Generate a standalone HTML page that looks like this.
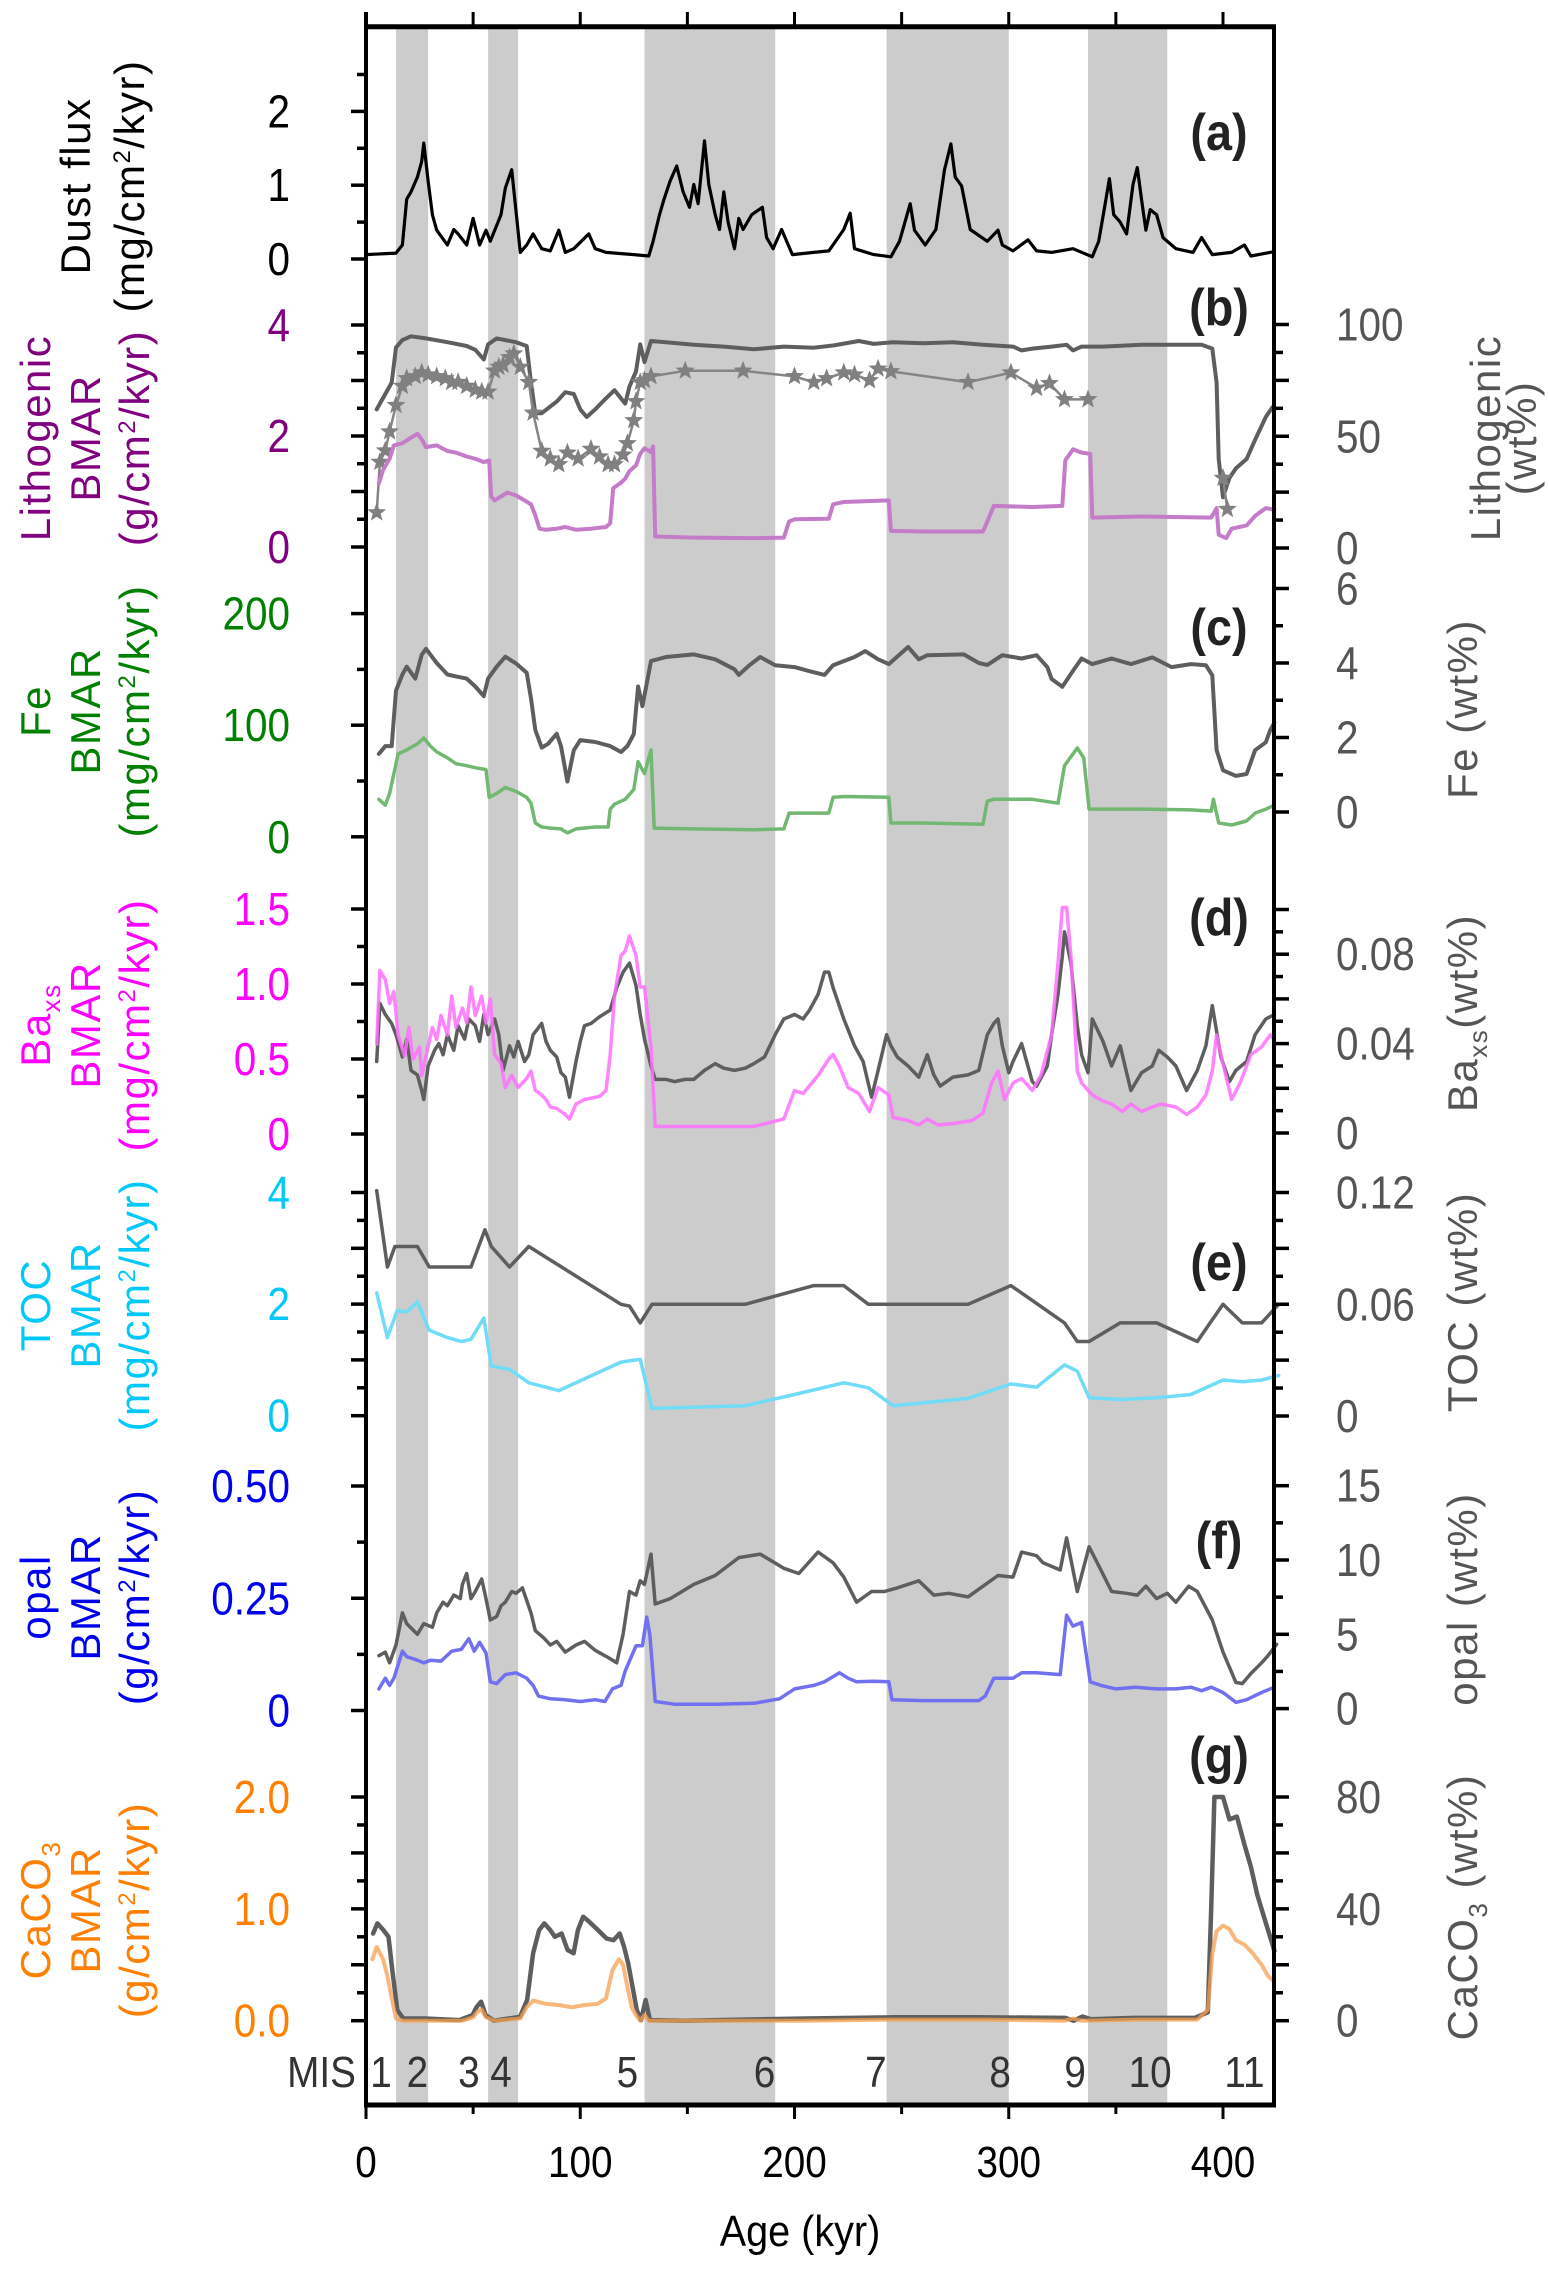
<!DOCTYPE html>
<html><head><meta charset="utf-8"><style>
html,body{margin:0;padding:0;background:#fff;}
svg{display:block;font-family:"Liberation Sans",Arial,sans-serif;}
</style></head><body>
<svg id="chart" width="1549" height="2271" viewBox="0 0 1549 2271" xmlns="http://www.w3.org/2000/svg">
<g id="bands"></g>
<g id="series"></g>
<g id="axes"></g>
<g id="labels"></g>
</svg>
<script>
// ---- data ----
const misBands = [[14,29],[57,71],[130,191],[243,300],[337,374]];
const misNames = ["1","2","3","4","5","6","7","8","9","10","11"];
const misLabelAges = [7,24,48,63,122,186,238,296,331,366,410];
const xTicks = [0,100,200,300,400];

const dustAge = [0,14,17,19,21,24,26,27,29,31,33,38,41,43,47,50,53,56,58,63,65,68,70,72,75,78,82,86,90,93,97,104,107,112,125,132,134,137,139,142,145,148,151,153,155,158,160,163,165,167,169,172,174,176,180,185,187,190,194,199,209,216,223,226,228,237,245,249,254,256,261,266,270,273,275,278,282,290,295,297,302,309,313,320,330,339,342,345,347,349,352,355,358,360,362,364,366,369,372,378,386,390,395,404,410,413,424];
const dustVal = [0.06,0.08,0.19,0.81,0.91,1.11,1.32,1.57,1.06,0.6,0.39,0.19,0.4,0.34,0.19,0.55,0.19,0.39,0.24,0.6,0.96,1.21,0.65,0.09,0.19,0.34,0.14,0.11,0.39,0.09,0.14,0.34,0.14,0.09,0.06,0.04,0.24,0.6,0.8,1.06,1.26,0.91,0.7,1.01,0.75,1.6,1.01,0.6,0.4,0.91,0.5,0.14,0.55,0.4,0.6,0.7,0.29,0.14,0.4,0.06,0.09,0.11,0.4,0.62,0.14,0.06,0.03,0.24,0.75,0.39,0.19,0.4,1.21,1.56,1.11,0.99,0.4,0.24,0.39,0.19,0.11,0.26,0.11,0.09,0.14,0.03,0.24,0.75,1.09,0.6,0.5,0.34,1.01,1.24,0.8,0.39,0.67,0.6,0.29,0.14,0.09,0.29,0.06,0.09,0.19,0.04,0.1];

const lithPctAge = [5,7,12,14,17,21,28,38,47,51,55,57,61,70,75,77,79,82,89,93,97,100,103,107,112,116,121,123,126,128,130,133,140,153,167,181,195,209,218,230,237,246,260,274,288,302,306,311,320,327,330,334,344,362,376,390,395,397,398,400,403,406,411,415,420,423];
const lithPctVal = [62,65.5,74,89.7,93,94.7,93.8,92.1,90.4,88.7,84.4,91.1,93.8,92.1,90.4,74,60.3,60.3,65.5,69.7,68.9,62,58.6,62,67,70.6,64.6,72.3,79,91.1,83.2,92.6,92.1,90.9,90.1,88.9,90.1,89.6,90.6,92.6,91.3,92.1,91.6,92.1,90.9,90.1,88.4,89.2,90.1,90.9,88.4,90.1,90.1,90.9,90.9,90.9,89.2,74,39.8,22.7,31.3,35.6,39.8,48.4,58.6,62.9];
const lithStarAge = [5,6.5,9,11,14,17,19,23,26,29,33,37,40,43,47,51,54,57,60,62,64,67,69,72,76,78,82,86,90,94,99,105,109,113,116,120,122,125,126,128,130,133,149,176,200,209,215,223,228,235,239,245,281,301,313,319,326,337];
const lithStarVal = [15.9,38.5,43.6,52.1,63.9,72.5,75.9,76.8,78.5,77.6,76.8,75.9,74.2,74.2,72.5,70.8,69.9,69.9,79.3,81,81.9,85.3,87,81,74.2,60.5,43.4,40,37.4,42.6,40,44.3,40.9,37.4,37.4,41.7,46.8,57.1,65.6,74.2,75,76.8,79.3,79.3,76.8,74.2,75.9,78.5,77.6,75,80.2,79,74.2,78.5,71.6,73.7,66.5,66.5];
const lithStar2Age = [400,402];
const lithStar2Val = [31.3,17.4];
const lithBmarAge = [6,8,11,13,17,21,24,26,28,33,38,42,47,51,55,57.5,58.4,60,63,66,70,74,77,79,81,84,89,93,98,105,112,114,115.4,119,121,123,126,128,130,133,134,135,153,181,195,197.5,200,216,218,223,244,245,260,288,290,293,311,325,326.4,330,334,338,339,362,394.5,397,398,401.5,404,411,415,420,424];
const lithBmarVal = [1.15,1.39,1.59,1.83,1.87,1.97,2.04,1.94,1.8,1.83,1.73,1.7,1.63,1.59,1.53,1.56,0.91,0.84,0.91,0.98,0.93,0.84,0.77,0.57,0.33,0.31,0.33,0.36,0.31,0.33,0.36,0.43,1.06,1.16,1.23,1.37,1.47,1.68,1.78,1.71,1.81,0.19,0.17,0.16,0.17,0.46,0.5,0.51,0.77,0.81,0.84,0.29,0.28,0.28,0.46,0.74,0.72,0.74,1.56,1.76,1.7,1.68,0.53,0.55,0.53,0.7,0.22,0.16,0.33,0.39,0.56,0.7,0.67];

const fePctAge = [6,9,12,14,17,19,23,26,28,33,38,42,47,51,55,57,61,65,70,75,77,79,82,85,89,91,94,97,100,107,114,119,122,125,127,129,133,140,153,163,172,174,179,184,191,200,207,214,218,228,233,239,244,253,258,262,279,286,290,297,306,313,318,320,325,330,334,339,348,357,367,376,385,392,395,397,400,406,411,415,420,422,424];
const fePctVal = [1.56,1.77,1.77,3.26,3.69,3.9,3.58,4.22,4.38,4.0,3.69,3.64,3.58,3.37,3.11,3.58,3.9,4.17,3.99,3.74,3.05,2.2,1.73,1.83,2.1,1.77,0.82,1.66,1.93,1.88,1.77,1.61,1.77,2.09,3.37,2.84,4.05,4.16,4.23,4.1,3.83,3.68,3.94,4.16,3.94,3.89,3.78,3.68,3.94,4.16,4.32,4.1,3.97,4.43,4.1,4.21,4.23,4.0,3.95,4.21,4.12,4.21,3.89,3.57,3.36,3.79,4.12,3.97,4.12,3.97,4.15,3.89,3.97,3.94,3.67,1.66,1.12,0.97,1.02,1.66,1.87,2.19,2.4];
const feBmarAge = [6,9,11,13,15,19,24,27,30,33,38,42,47,51,56,57.5,61,65,70,75,77,79,82,86,91,94,98,107,113,114,116,121,125,127,130,133,134.5,153,181,195,197.5,216,218,223,244,245,260,288,290,293,311,323,326,330,332,335,337.5,362,385,394.5,395.5,398,404,411,415,420,424];
const feBmarVal = [33.6,28.3,38.9,56.6,74.3,77.9,83.2,88.5,81.4,76.1,70.8,65.5,63.7,61.9,60.2,35.4,38.9,44.2,40.7,35.4,30.1,12.4,8.8,7.8,7.1,3.5,7.1,8.8,8.8,24.8,29.2,33.6,42.5,67.3,56.6,77.9,7.8,7.1,6.4,7.1,21.2,21.2,35.4,36.1,35.4,12.4,12.4,11.3,31.9,33.6,33.6,30.1,63.7,74.3,79.6,70.8,24.8,24.8,24.1,23,33.6,12.4,10.6,14.2,21.2,24.8,28.3];

const baPctAge = [5,6.5,9,12,14,17,19,21,24,26,27,29,32,34,36,38,41,43,46,48,51,53,55,57,60,62,64,67,69,71,74,76,78,82,84,86,89,91,93,95,98,100,102,105,109,114,117,120,123,126,128,130,133,135,140,144,149,153,158,163,167,172,177,181,186,191,195,200,204,207,211,214,216,218,223,228,232,236,239,243,245,248,253,258,262,265,268,274,281,286,290,293,295,297,300,302,306,311,313,318,320,323,325,326,329,332,334,337,339,344,348,352,355,357,362,367,370,374,378,383,388,392,395,399,403,406,411,415,420,424];
const baPctVal = [0.032,0.058,0.053,0.049,0.044,0.034,0.042,0.028,0.026,0.019,0.015,0.030,0.037,0.040,0.035,0.044,0.037,0.048,0.042,0.051,0.048,0.041,0.053,0.044,0.051,0.044,0.028,0.039,0.034,0.041,0.032,0.035,0.044,0.049,0.041,0.037,0.034,0.027,0.025,0.016,0.032,0.041,0.048,0.049,0.052,0.055,0.065,0.072,0.076,0.066,0.053,0.042,0.030,0.024,0.024,0.023,0.024,0.024,0.028,0.031,0.029,0.028,0.029,0.031,0.034,0.044,0.051,0.053,0.051,0.055,0.062,0.072,0.072,0.065,0.051,0.039,0.032,0.016,0.028,0.044,0.039,0.034,0.030,0.025,0.035,0.026,0.021,0.025,0.026,0.028,0.044,0.049,0.051,0.039,0.027,0.032,0.040,0.023,0.021,0.030,0.044,0.062,0.079,0.090,0.076,0.048,0.035,0.027,0.051,0.041,0.030,0.039,0.027,0.019,0.027,0.030,0.037,0.034,0.030,0.019,0.028,0.039,0.057,0.034,0.023,0.028,0.032,0.044,0.051,0.053];
const baBmarAge = [5,6.5,9,11,13,15,18,20,22,25,26,28,31,33,35,38,40,42,45,47,49,51,54,56,58,60,63,65,68,71,75,77,79,82,84,86,89,91,93,95,98,102,109,112,114,116,119,121,123,126,128,130,133,135,153,181,195,200,204,211,216,218,221,225,230,235,239,244,246,253,258,262,267,274,283,288,292,295,298,302,306,311,315,320,323,325,327,329,332,334,339,344,348,353,357,362,367,371,378,383,388,392,395,397,400,404,408,413,418,422,424];
const baBmarVal = [0.60,1.09,1.03,0.87,0.95,0.66,0.52,0.71,0.50,0.58,0.39,0.52,0.71,0.63,0.79,0.66,0.92,0.71,0.84,0.74,0.98,0.79,0.92,0.74,0.90,0.53,0.47,0.31,0.39,0.31,0.37,0.42,0.29,0.26,0.23,0.18,0.17,0.15,0.13,0.10,0.20,0.23,0.25,0.29,0.53,0.92,1.19,1.22,1.32,1.19,0.98,0.98,0.58,0.05,0.05,0.05,0.10,0.29,0.27,0.39,0.50,0.53,0.45,0.31,0.27,0.15,0.31,0.26,0.11,0.09,0.06,0.10,0.06,0.07,0.09,0.14,0.34,0.42,0.23,0.34,0.37,0.29,0.39,0.66,1.14,1.51,1.51,1.19,0.42,0.34,0.26,0.22,0.20,0.15,0.20,0.15,0.18,0.20,0.18,0.13,0.18,0.26,0.42,0.66,0.47,0.23,0.34,0.53,0.58,0.66,0.63];

const tocPctAge = [5,10,13.5,24,29.5,49,55.5,58.5,67,76,119,123,128,133.5,177,209,223,234.5,281,301,326,332,337.5,352,369,388,400,409,418,426];
const tocPctVal = [0.121,0.080,0.091,0.091,0.080,0.080,0.100,0.091,0.080,0.091,0.060,0.059,0.050,0.060,0.060,0.070,0.070,0.060,0.060,0.070,0.050,0.040,0.040,0.050,0.050,0.040,0.060,0.050,0.050,0.060];
const tocBmarAge = [5,10,14.5,19,24,29.5,38,44.5,49,55,58.5,67,76,90,119,128,133.5,177,200,223,234.5,246,281,301,313,326,332,337.5,352,369,385,400,409,418,426];
const tocBmarVal = [2.20,1.40,1.88,1.86,2.04,1.53,1.40,1.33,1.37,1.75,0.89,0.83,0.59,0.45,0.96,1.01,0.13,0.18,0.38,0.59,0.50,0.18,0.31,0.57,0.51,0.91,0.80,0.32,0.29,0.32,0.38,0.64,0.61,0.64,0.72];

const opalPctAge = [6,9,11,14,17,19,24,27,31,33,36,38,41,44,45,47,49,51,54,56,58,61,63,65,68,70,73,77,79,83,86,89,93,98,102,107,113,117,120,123,126,128,130,133,135,142,153,163,174,184,195,202,211,218,223,229,236,242,248,258,265,272,281,288,295,302,306,313,316,320,324,327,332,337.5,343,348,355,360,364,369,374,378,384,388,395,400,406,409,413,418,421,425];
const opalPctVal = [3.56,3.80,3.08,4.28,6.44,5.72,5.0,5.72,5.48,6.44,7.16,6.92,7.64,7.40,8.36,9.09,7.4,7.88,8.72,7.4,5.96,6.2,6.92,7.16,7.88,7.76,8.12,6.44,5.24,4.76,4.28,4.52,3.8,4.28,4.52,3.92,3.44,3.08,5.0,7.88,7.64,8.6,8.36,10.4,7.04,7.4,8.36,8.96,10.16,10.4,9.44,9.09,10.53,9.81,8.85,7.16,7.88,7.88,8.12,8.6,7.64,7.76,7.52,8.24,8.96,8.85,10.53,10.29,9.81,9.57,9.33,11.49,7.88,10.89,9.33,7.88,7.76,7.64,8.24,7.4,7.76,7.16,8.24,7.88,5.96,3.8,1.76,1.68,2.36,3.08,3.56,4.33];
const opalBmarAge = [6,9,11,13,17,19,24,27,30,35,40,44.5,48,50.5,53,56,58,61,65,70,75,78,80.5,86,93,100,107,111.5,115,119,121,126,129,131,132.5,135,144,163,181,193,200,209,214,221,225,229,237,244,245.5,260,286,289,293,302,306,313,324,327,330,334,338,343,350,359,369,378,385,390,394.5,400,406,411,418,424];
const opalBmarVal = [0.048,0.072,0.056,0.072,0.132,0.12,0.112,0.106,0.112,0.110,0.132,0.136,0.160,0.132,0.152,0.128,0.064,0.060,0.080,0.084,0.072,0.056,0.032,0.026,0.024,0.020,0.024,0.020,0.048,0.056,0.088,0.144,0.144,0.208,0.168,0.020,0.014,0.014,0.016,0.026,0.048,0.056,0.064,0.084,0.072,0.064,0.065,0.064,0.024,0.022,0.022,0.032,0.072,0.072,0.084,0.084,0.080,0.212,0.188,0.196,0.064,0.056,0.048,0.052,0.048,0.048,0.052,0.044,0.052,0.040,0.018,0.024,0.040,0.052];

const caPctAge = [3.3,5.3,8.1,10.5,12.1,14.6,17.4,27.6,43.6,49.7,51.7,53.7,55.8,59.8,71.9,75.2,78,80.8,83.2,86,88.1,91.3,94.1,96.9,98.9,101.4,104.2,108.3,112.3,115.5,118.4,120.4,122.4,124.4,126.4,128.4,130.5,132.5,148.6,205,245.5,285.9,326.3,330.3,334.4,338.4,358.5,386.8,392.9,394.5,396,400,403,406.5,410,413,416,420,424];
const caPctVal = [31.2,34.8,32.4,30,19.3,3.8,0.8,0.8,0.2,2,5,6.8,2,0,1.4,7.4,24.1,32.4,34.8,32.4,30,31.2,25.3,24.1,32.4,37.2,35.4,32.4,29.4,28.8,31.2,26.5,20.5,12.2,3.8,0.2,7.4,0.2,0,0.8,1.2,1.2,1.0,0,1.5,0.5,1.0,1.0,3,40,80,80,72,73,63,55,45,35,25];
const caBmarAge = [3,5,8,10,12,14,17,30,45,50,52,54,56,60,72,75,78,84,90,96,102,108,112,115,118,120,122,124,126,128,130,132,150,205,245,290,326,330,334,360,388,393,395,397,400,403,406,410,414,418,421,424];
const caBmarVal = [0.55,0.66,0.55,0.40,0.20,0.02,0.0,0.0,0.0,0.03,0.08,0.10,0.03,0.0,0.02,0.12,0.18,0.15,0.14,0.12,0.14,0.15,0.20,0.45,0.55,0.50,0.30,0.12,0.05,0.0,0.05,0.0,0.0,0.0,0.01,0.01,0.0,0.02,0.0,0.01,0.01,0.1,0.6,0.8,0.85,0.82,0.72,0.68,0.6,0.5,0.4,0.35];

// ---- scales ----
const X0 = 366, KX = 2.1425, XR = 1274, YTOP = 26.8, YBOT = 2105;
function xs(a){ return X0 + a*KX; }
function lin(v0,y0,v1,y1){ return v => y0 + (v - v0)*(y1 - y0)/(v1 - v0); }
const ySc = {
  dust: lin(0,259,2,111.4),
  lithB: lin(0,547,4,325), lithP: lin(0,548,100,324.5),
  feB: lin(0,836.8,200,613.6), feP: lin(0,812,6,588.5),
  baB: lin(0,1134,1.5,909), baP: lin(0,1133,0.1,909.5),
  tocB: lin(0,1415.7,4,1192.5), tocP: lin(0,1416,0.12,1192.5),
  opB: lin(0,1710.5,0.5,1486), opP: lin(0,1708.6,15,1485.7),
  caB: lin(0,2020.7,2,1797), caP: lin(0,2020.7,80,1797)
};
const NS = "http://www.w3.org/2000/svg";
function mk(tag, attrs, parent){
  const e = document.createElementNS(NS, tag);
  for (const k in attrs) e.setAttribute(k, attrs[k]);
  parent.appendChild(e); return e;
}
const gB = document.getElementById('bands'), gS = document.getElementById('series'),
      gA = document.getElementById('axes'), gL = document.getElementById('labels');

// bands
misBands.forEach(b => {
  const r = mk('rect', {x: xs(b[0]), y: YTOP, width: xs(b[1]) - xs(b[0]), height: YBOT - YTOP, fill: '#cccccc'}, gB);
  
  
});

function line(ages, vals, sc, color, w, name, op){
  let d = '';
  for (let i = 0; i < ages.length; i++) d += (i ? 'L' : 'M') + xs(ages[i]).toFixed(1) + ',' + sc(vals[i]).toFixed(1);
  const p = mk('path', {d: d, fill: 'none', stroke: color, 'stroke-width': w, 'stroke-linejoin': 'round', 'stroke-linecap': 'round'}, gS);
  if (op) p.setAttribute('stroke-opacity', op);
  
  
  return p;
}
function star(cx, cy, r){
  let d = '';
  for (let i = 0; i < 10; i++){
    const a = -Math.PI/2 + i*Math.PI/5, rr = i%2 ? r*0.42 : r;
    d += (i ? 'L' : 'M') + (cx + rr*Math.cos(a)).toFixed(1) + ',' + (cy + rr*Math.sin(a)).toFixed(1);
  }
  return d + 'Z';
}
const DK = '#5e5e5e';
line(dustAge, dustVal, ySc.dust, '#000', 3.2, 'dust-flux-line');
line(lithPctAge, lithPctVal, ySc.lithP, DK, 4, 'lithogenic-wt-line');
line(lithStarAge, lithStarVal, ySc.lithP, '#858585', 2.5, 'lithogenic-star-line');
line(lithStar2Age, lithStar2Val, ySc.lithP, '#858585', 2.5, 'lithogenic-star-line-2');
[[lithStarAge, lithStarVal],[lithStar2Age, lithStar2Val]].forEach(s => {
  for (let i = 0; i < s[0].length; i++){
    const st = mk('path', {d: star(xs(s[0][i]), ySc.lithP(s[1][i]), 10), fill: '#808080'}, gS);
    
    
  }
});
line(lithBmarAge, lithBmarVal, ySc.lithB, '#c47cc8', 4, 'lithogenic-bmar-line');
line(fePctAge, fePctVal, ySc.feP, DK, 4, 'fe-wt-line');
line(feBmarAge, feBmarVal, ySc.feB, '#72b872', 3.5, 'fe-bmar-line');
line(baPctAge, baPctVal, ySc.baP, DK, 3.5, 'ba-wt-line');
line(baBmarAge, baBmarVal, ySc.baB, '#ff70ff', 3.5, 'ba-bmar-line', 0.85);
line(tocPctAge, tocPctVal, ySc.tocP, DK, 3.5, 'toc-wt-line');
line(tocBmarAge, tocBmarVal, ySc.tocB, '#70dcf8', 3.5, 'toc-bmar-line');
line(opalPctAge, opalPctVal, ySc.opP, DK, 3.5, 'opal-wt-line');
line(opalBmarAge, opalBmarVal, ySc.opB, '#7070f0', 3.5, 'opal-bmar-line');
line(caPctAge, caPctVal, ySc.caP, DK, 4.5, 'caco3-wt-line');
line(caBmarAge, caBmarVal, ySc.caB, '#f5a050', 4, 'caco3-bmar-line', 0.75);

// ---- axes ----
function seg(x1,y1,x2,y2,w,name){
  const l = mk('line', {x1:x1, y1:y1, x2:x2, y2:y2, stroke:'#000', 'stroke-width':w}, gA);
  
  
}
seg(X0, 12, X0, YBOT, 4, 'left-axis-line');
seg(XR, YTOP, XR, YBOT + 2, 4, 'right-axis-line');
seg(X0 - 2, YTOP, XR + 2, YTOP, 5, 'top-axis-line');
seg(X0 - 2, YBOT, XR + 2, YBOT, 5, 'x-axis-line');
for (let a = 0; a <= 420; a += 50){
  seg(xs(a), YTOP, xs(a), 12, 3, 'top-tick');
  seg(xs(a), YBOT, xs(a), a % 100 === 0 ? 2119 : 2114, 3, 'x-tick');
}
function txt(s, x, y, opt){
  const sx = opt.sx || 0.88;
  const t = mk('text', {x: 0, y: 0, 'font-size': opt.fs || 46, fill: opt.fill || '#000', 'text-anchor': opt.anchor || 'middle',
    'font-weight': opt.bold ? 'bold' : 'normal',
    transform: 'translate(' + x + ',' + y + ')' + (opt.rot ? ' rotate(' + opt.rot + ')' : '') + ' scale(' + sx + ',1)'}, gL);
  t.textContent = s;
  return t;
}
function leftAxis(sc, major, minor, lo, hi, labels, color, name){
  for (let v = lo; v <= hi + 1e-9; v += minor){
    const isMaj = Math.abs(v/major - Math.round(v/major)) < 1e-6;
    seg(X0, sc(v), X0 - (isMaj ? 15 : 9), sc(v), 3.5, name + '-tick');
  }
  labels.forEach(l => {
    const t = txt(l[1], 290, sc(l[0]) + 16, {fill: color, anchor: 'end'});
    
    
  });
}
function rightAxis(sc, major, minor, lo, hi, labels, name){
  for (let v = lo; v <= hi + 1e-9; v += minor){
    const isMaj = Math.abs(v/major - Math.round(v/major)) < 1e-6;
    seg(XR, sc(v), XR + (isMaj ? 15 : 9), sc(v), 3.5, name + '-tick');
  }
  labels.forEach(l => {
    const t = txt(l[1], 1336, sc(l[0]) + 16, {fill: '#555', anchor: 'start'});
    
    
  });
}
leftAxis(ySc.dust, 1, 0.5, 0, 2.5, [[0,'0'],[1,'1'],[2,'2']], '#000', 'dust-y');
leftAxis(ySc.lithB, 1, 0.5, 0, 4, [[0,'0'],[2,'2'],[4,'4']], '#800080', 'lith-bmar-y');
leftAxis(ySc.feB, 100, 50, 0, 200, [[0,'0'],[100,'100'],[200,'200']], '#008000', 'fe-bmar-y');
leftAxis(ySc.baB, 0.5, 0.25, 0, 1.5, [[0,'0'],[0.5,'0.5'],[1,'1.0'],[1.5,'1.5']], '#ff00ff', 'ba-bmar-y');
leftAxis(ySc.tocB, 1, 0.5, 0, 4, [[0,'0'],[2,'2'],[4,'4']], '#00c8f8', 'toc-bmar-y');
leftAxis(ySc.opB, 0.25, 0.125, 0, 0.5, [[0,'0'],[0.25,'0.25'],[0.5,'0.50']], '#0000f0', 'opal-bmar-y');
leftAxis(ySc.caB, 0.5, 0.25, 0, 2, [[0,'0.0'],[1,'1.0'],[2,'2.0']], '#ff8000', 'caco3-bmar-y');
rightAxis(ySc.lithP, 25, 12.5, 0, 100, [[0,'0'],[50,'50'],[100,'100']], 'lith-wt-y');
rightAxis(ySc.feP, 2, 1, 0, 6, [[0,'0'],[2,'2'],[4,'4'],[6,'6']], 'fe-wt-y');
rightAxis(ySc.baP, 0.02, 0.01, 0, 0.1, [[0,'0'],[0.04,'0.04'],[0.08,'0.08']], 'ba-wt-y');
rightAxis(ySc.tocP, 0.03, 0.015, 0, 0.12, [[0,'0'],[0.06,'0.06'],[0.12,'0.12']], 'toc-wt-y');
rightAxis(ySc.opP, 5, 2.5, 0, 15, [[0,'0'],[5,'5'],[10,'10'],[15,'15']], 'opal-wt-y');
rightAxis(ySc.caP, 20, 10, 0, 80, [[0,'0'],[40,'40'],[80,'80']], 'caco3-wt-y');

// x tick labels
xTicks.forEach(a => {
  const t = txt(String(a), xs(a), 2177, {fs: 44});
  
  
});
const xt = txt('Age (kyr)', 800, 2246, {fs: 44, sx: 0.9});


const mis = txt('MIS', 356, 2087, {fs: 44, anchor: 'end', fill: '#333'});


misNames.forEach((n, i) => {
  const t = txt(n, xs(misLabelAges[i]), 2087, {fs: 44, fill: '#333'});
  
  
});
// panel letters
[['(a)',150],['(b)',325],['(c)',645],['(d)',935],['(e)',1280],['(f)',1558],['(g)',1773]].forEach(p => {
  const t = txt(p[0], 1219, p[1], {fs: 52, bold: true, fill: '#222', sx: 0.9});
  
  
});
// y titles (rotated)
function ytitle(lines, xsArr, cy, color, name){
  lines.forEach((s, i) => {
    const t = txt('', xsArr[i] + 15, cy, {fs: 42, fill: color, rot: -90, sx: 1});
    t.innerHTML = s;
    t.setAttribute('letter-spacing', '1.5');
    
    
  });
}
const SUP2 = '<tspan font-size="24" dy="-14">2</tspan><tspan dy="14">/kyr)</tspan>';
ytitle(['Dust flux', '(mg/cm' + SUP2], [75,129], 186, '#000', 'dust-y-title');
ytitle(['Lithogenic','BMAR','(g/cm' + SUP2], [35,85,134], 438, '#800080', 'lith-bmar-y-title');
ytitle(['Fe','BMAR','(mg/cm' + SUP2], [35,85,134], 711, '#008000', 'fe-bmar-y-title');
ytitle(['Ba<tspan font-size="26" dy="10">xs</tspan>','BMAR','(mg/cm' + SUP2], [35,85,134], 1025, '#ff00ff', 'ba-bmar-y-title');
ytitle(['TOC','BMAR','(mg/cm' + SUP2], [35,85,134], 1305, '#00c8f8', 'toc-bmar-y-title');
ytitle(['opal','BMAR','(g/cm' + SUP2], [35,85,134], 1597, '#0000f0', 'opal-bmar-y-title');
ytitle(['CaCO<tspan font-size="26" dy="10">3</tspan>','BMAR','(g/cm' + SUP2], [35,85,134], 1910, '#ff8000', 'caco3-bmar-y-title');
ytitle(['Lithogenic','(wt%)'], [1485,1521], 438, '#555', 'lith-wt-y-title');
ytitle(['Fe (wt%)'], [1462], 709, '#555', 'fe-wt-y-title');
ytitle(['Ba<tspan font-size="26" dy="10">xs</tspan><tspan dy="-10">(wt%)</tspan>'], [1462], 1013, '#555', 'ba-wt-y-title');
ytitle(['TOC (wt%)'], [1462], 1302, '#555', 'toc-wt-y-title');
ytitle(['opal (wt%)'], [1462], 1599, '#555', 'opal-wt-y-title');
ytitle(['CaCO<tspan font-size="26" dy="10">3</tspan><tspan dy="-10"> (wt%)</tspan>'], [1462], 1907, '#555', 'caco3-wt-y-title');
</script>
</body></html>
